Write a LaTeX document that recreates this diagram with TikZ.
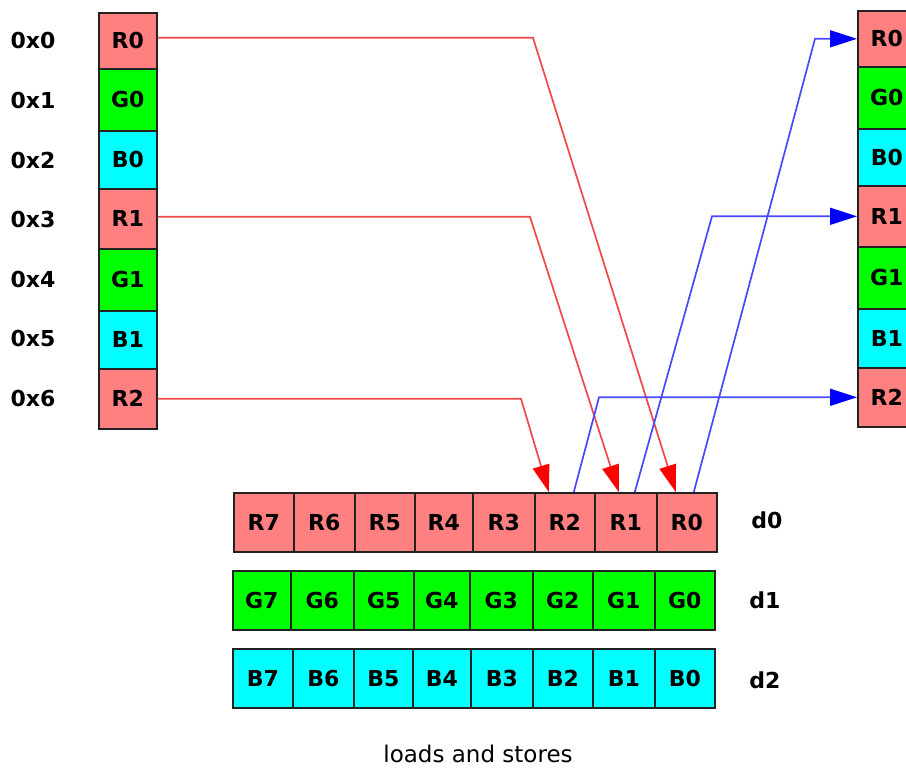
\documentclass[tikz,border=0pt]{standalone}
\usepackage{fontspec}
\setmainfont{DejaVu Sans}
\usetikzlibrary{arrows.meta}
\definecolor{cr}{HTML}{FF8080}
\definecolor{cg}{HTML}{00FF00}
\definecolor{cb}{HTML}{00FFFF}
\definecolor{redline}{HTML}{F04848}
\definecolor{blueline}{HTML}{4848FF}
\definecolor{edge}{HTML}{222222}
\begin{document}
\begin{tikzpicture}[x=1pt,y=-1pt,
  cell/.style={draw=edge, line width=1.6pt, anchor=north west, inner sep=0pt,
    font=\fontsize{22}{22}\selectfont\bfseries},
  lbl/.style={font=\fontsize{22}{22}\selectfont\bfseries},
  captext/.style={font=\fontsize{23}{24}\selectfont},
  ld/.style={redline, line width=1.7pt, -{Triangle[length=27pt,width=17pt,color=red]}},
  st/.style={blueline, line width=1.7pt, -{Triangle[length=27pt,width=17pt,color=blue]}}]
\useasboundingbox (0,0) rectangle (906,769);
\clip (0,0) rectangle (906,769);
% left memory column
\foreach \n/\t/\y/\h/\c in {L0/R0/12/56/cr, L1/G0/68/62/cg, L2/B0/130/58/cb, L3/R1/188/60/cr, L4/G1/248/62/cg, L5/B1/310/58/cb, L6/R2/368/60/cr}
  \node[cell, fill=\c, minimum width=58, minimum height=\h] (\n) at (98,\y) {\t};
% right memory column
\foreach \n/\t/\y/\h/\c in {T0/R0/10/56/cr, T1/G0/66/62/cg, T2/B0/128/57/cb, T3/R1/185/61/cr, T4/G1/246/62/cg, T5/B1/308/59/cb, T6/R2/367/59/cr}
  \node[cell, fill=\c, minimum width=58, minimum height=\h] (\n) at (857,\y) {\t};
% addresses
\foreach \n/\t/\y in {A0/0x0/40, A1/0x1/100, A2/0x2/160, A3/0x3/219, A4/0x4/279, A5/0x5/338, A6/0x6/398}
  \node[lbl] (\n) at (33,\y) {\t};
% registers
\foreach \n/\t/\x/\w in {dR7/R7/233/60, dR6/R6/293/61, dR5/R5/354/60, dR4/R4/414/58, dR3/R3/472/62, dR2/R2/534/60, dR1/R1/594/62, dR0/R0/656/60}
  \node[cell, fill=cr, minimum width=\w, minimum height=59] (\n) at (\x,492) {\t};
\foreach \n/\t/\x/\w in {dG7/G7/232/58, dG6/G6/290/63, dG5/G5/353/60, dG4/G4/413/56, dG3/G3/469/63, dG2/G2/532/60, dG1/G1/592/62, dG0/G0/654/60}
  \node[cell, fill=cg, minimum width=\w, minimum height=59] (\n) at (\x,570) {\t};
\foreach \n/\t/\x/\w in {dB7/B7/232/60, dB6/B6/292/61, dB5/B5/353/59, dB4/B4/412/58, dB3/B3/470/62, dB2/B2/532/60, dB1/B1/592/62, dB0/B0/654/60}
  \node[cell, fill=cb, minimum width=\w, minimum height=59] (\n) at (\x,648) {\t};
\node[lbl] (n0) at (767,520) {d0};
\node[lbl] (n1) at (765,600) {d1};
\node[lbl] (n2) at (765,680) {d2};
\node[captext] (caption) at (478,754) {loads and stores};
% bend points
\coordinate (k0) at (533,0);
\coordinate (k3) at (530,0);
\coordinate (k6) at (521,0);
\coordinate (m0) at (815,0);
\coordinate (m3) at (712,0);
\coordinate (m6) at (599,0);
% loads
\draw[ld] ([yshift=3pt]L0.east) -- ([yshift=3pt]L0.east -| k0) -- ([xshift=-11pt]dR0.north);
\draw[ld] ([yshift=2pt]L3.east) -- ([yshift=2pt]L3.east -| k3) -- ([xshift=-7pt]dR1.north);
\draw[ld] (L6.east) -- (L6.east -| k6) -- ([xshift=-16pt]dR2.north);
% stores
\draw[st] ([xshift=7pt]dR0.north) -- (m0 |- T0.west) -- (T0.west);
\draw[st] ([xshift=9pt]dR1.north) -- (m3 |- T3.west) -- (T3.west);
\draw[st] ([xshift=9pt]dR2.north) -- (m6 |- T6.west) -- (T6.west);
\end{tikzpicture}
\end{document}
